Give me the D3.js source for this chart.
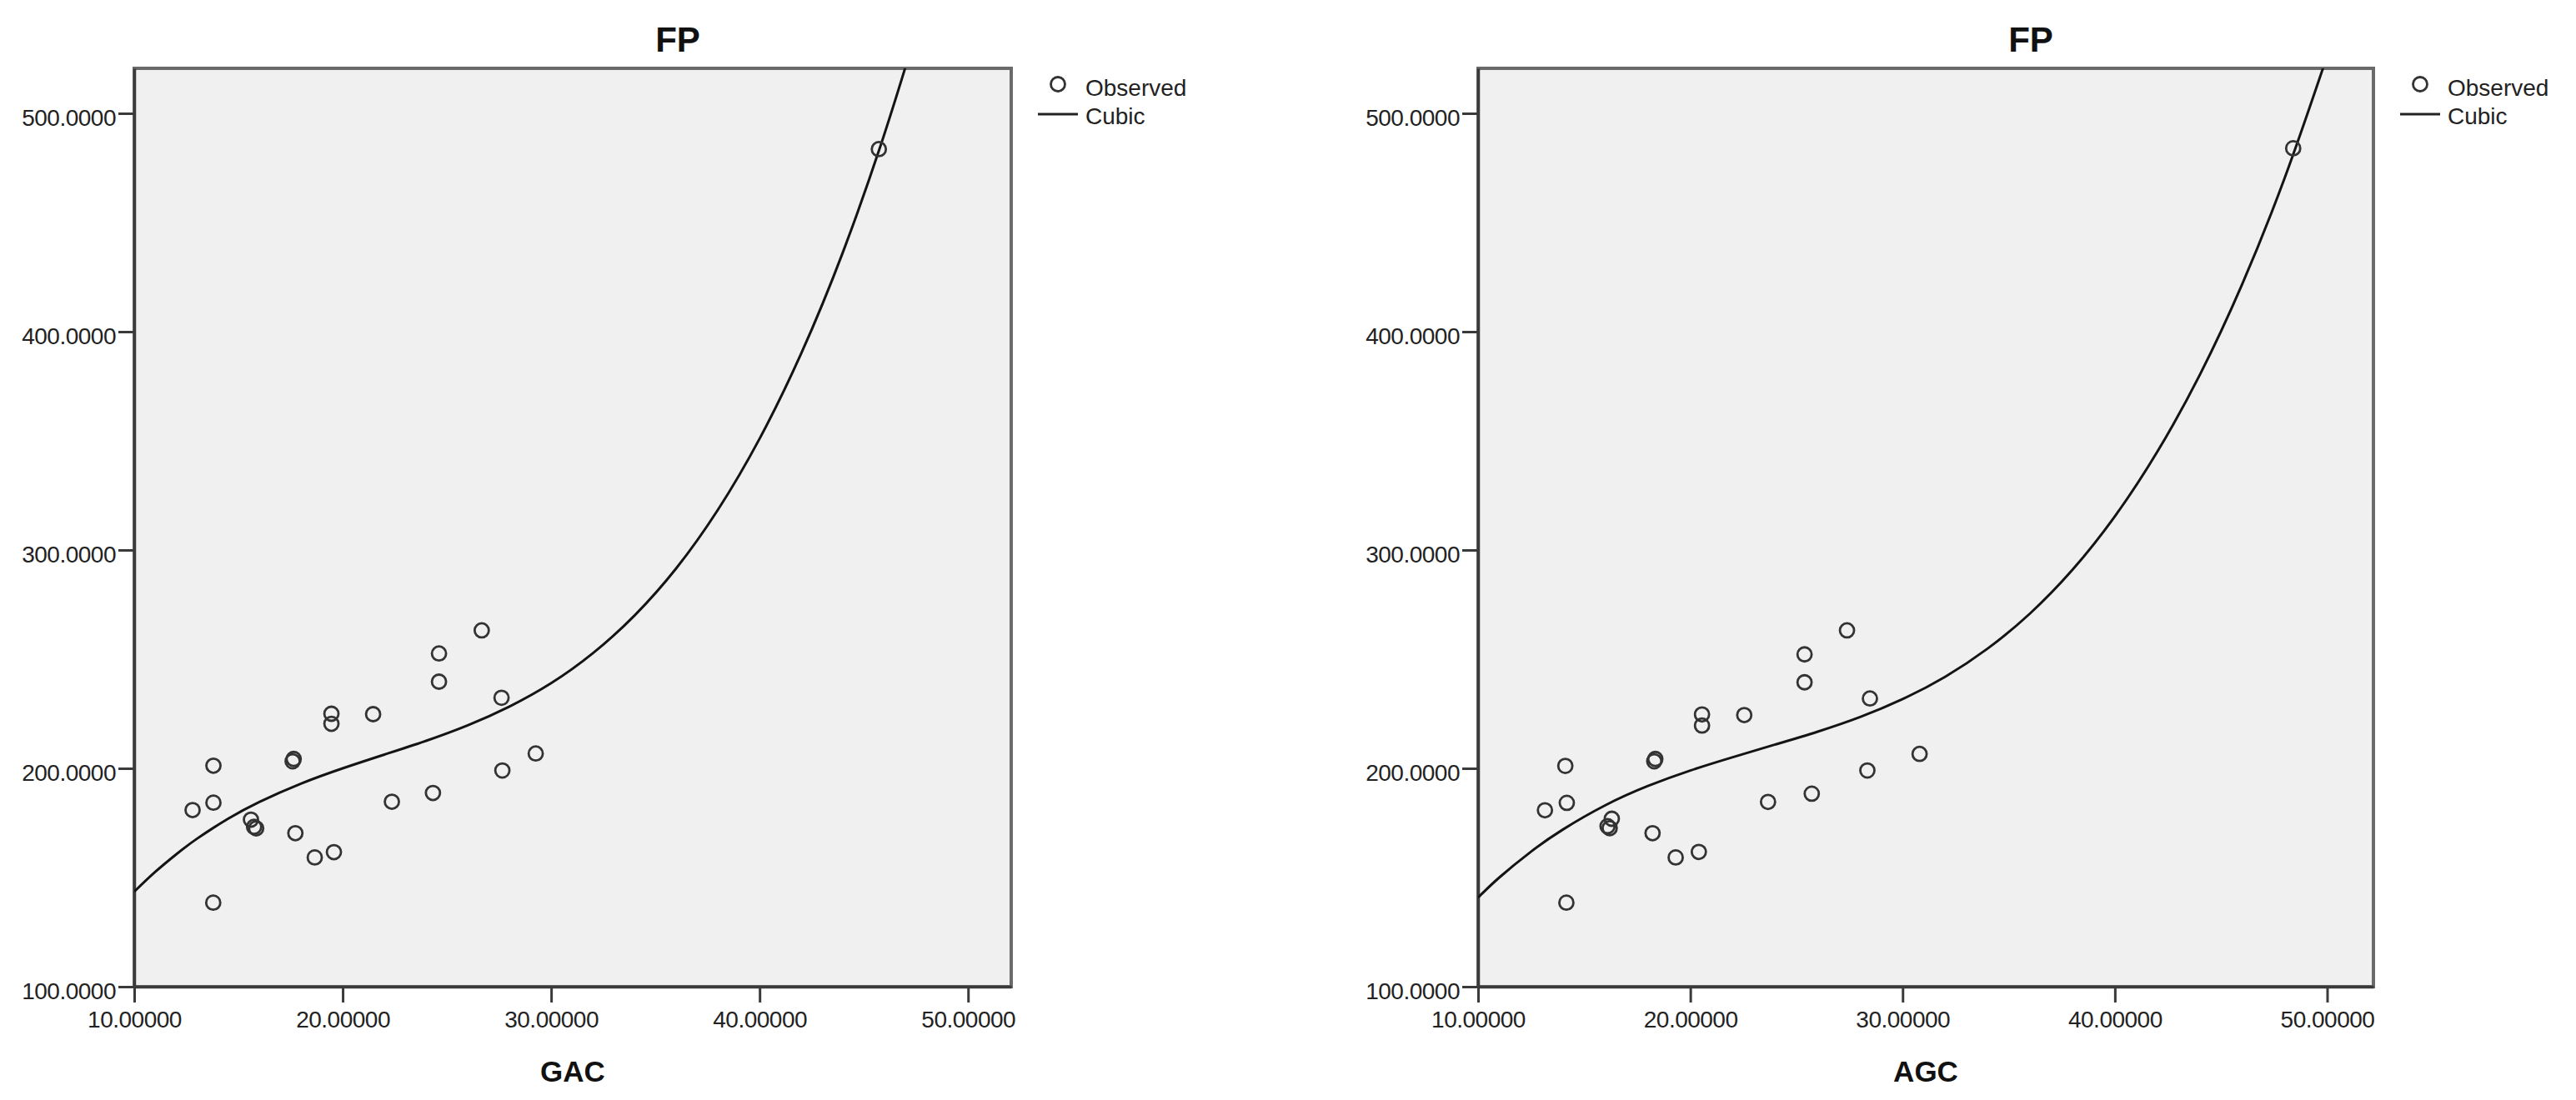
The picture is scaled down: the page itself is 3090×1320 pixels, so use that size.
<!DOCTYPE html>
<html>
<head>
<meta charset="utf-8">
<script src="https://cdn.jsdelivr.net/npm/d3@7"></script>
<style>
  body { margin:0; background:#fff; }
  text { font-family:"Liberation Sans", Arial, sans-serif; }
</style>
</head>
<body>
<script>
var width=3090, height=1320;

// observed values, left panel (GAC vs FP)
var gacX  = [13.8, 13.8, 12.8, 15.6, 15.75, 15.85, 17.6, 17.65, 17.73, 18.66, 19.58, 13.79, 22.36, 24.33, 27.66, 29.26, 19.46, 19.46, 21.46, 24.62, 24.62, 26.67, 27.62, 45.72];
var gacFP = [201.2, 184.3, 180.9, 176.5, 173.2, 172.5, 203.2, 204.3, 170.3, 159.2, 161.6, 138.5, 184.7, 188.7, 199.0, 206.8, 225.0, 220.4, 224.8, 252.6, 239.7, 263.2, 232.3, 483.6];

// observed values, right panel (AGC vs FP)
var agcX  = [14.11, 14.18, 13.15, 16.3, 16.1, 16.2, 18.3, 18.35, 18.22, 19.31, 20.4, 14.16, 23.66, 25.72, 28.34, 30.8, 20.55, 20.55, 22.54, 25.38, 25.38, 27.38, 28.46, 48.4];
var agcFP = [201.1, 184.2, 180.8, 176.9, 173.5, 172.6, 203.2, 204.3, 170.3, 159.2, 161.7, 138.5, 184.6, 188.4, 199.0, 206.6, 224.7, 219.6, 224.4, 252.2, 239.4, 263.2, 232.0, 484.0];

// cubic fit curve
var gacCurveX = [10, 11, 12, 13, 14.5, 16, 18, 20, 22, 24, 26, 28, 30, 32, 34, 36, 38, 40, 42, 44, 45.8, 47.0];
var gacCurveY = [143.5, 152.5, 160.5, 167.7, 176.9, 184.6, 193.0, 200.0, 206.3, 212.6, 219.7, 228.3, 239.0, 252.7, 270.0, 291.6, 318.4, 351.0, 390.1, 436.5, 485.1, 521.3];
var agcCurveX = [10, 11, 12.5, 14, 16, 18, 20, 22, 24, 26, 28, 30, 32, 34, 36, 38, 40, 42, 44, 46, 48, 49.82];
var agcCurveY = [140.8, 150.0, 161.9, 172.0, 183.1, 191.9, 199.0, 205.1, 210.9, 216.8, 223.5, 231.7, 241.9, 254.8, 270.9, 290.9, 315.4, 345.0, 380.2, 421.8, 470.4, 521.1];

var xTicks = [10, 20, 30, 40, 50];
var yTicks = [100, 200, 300, 400, 500];
var legendLabels = ["Observed", "Cubic"];

function init(){
	var svg = d3.select("body").append("svg").attr("width",width).attr("height",height);

	drawPanel(svg, {id:"a", x0:161, x1:1213, xMax:52.07, title:"FP", xLabel:"GAC", xs:gacX, ys:gacFP, cx:gacCurveX, cy:gacCurveY});
	drawPanel(svg, {id:"b", x0:1773, x1:2847, xMax:52.18, title:"FP", xLabel:"AGC", xs:agcX, ys:agcFP, cx:agcCurveX, cy:agcCurveY});
}

function drawPanel(svg, p){
	var top=82, bottom=1184;
	var x = d3.scaleLinear().domain([10, p.xMax]).range([p.x0, p.x1]);
	var y = d3.scaleLinear().domain([100, 520.6]).range([bottom, top]);
	var g = svg.append("g");

	g.append("clipPath").attr("id","clip"+p.id)
		.append("rect").attr("x",p.x0).attr("y",top).attr("width",p.x1-p.x0).attr("height",bottom-top);

	g.append("rect")
		.attr("x",p.x0).attr("y",top).attr("width",p.x1-p.x0).attr("height",bottom-top)
		.attr("fill","#f0f0f0").attr("stroke","#6a6a6a").attr("stroke-width",4);

	// axes
	var yAxis = g.append("g").attr("transform","translate("+p.x0+",0)")
		.call(d3.axisLeft(y).tickValues(yTicks).tickFormat(d3.format(".4f")).tickSize(19).tickPadding(3).tickSizeOuter(0));
	var xAxis = g.append("g").attr("transform","translate(0,"+bottom+")")
		.call(d3.axisBottom(x).tickValues(xTicks).tickFormat(d3.format(".5f")).tickSize(19).tickPadding(10).tickSizeOuter(0));
	[xAxis,yAxis].forEach(function(a){
		a.select(".domain").attr("stroke","#3a3a3a").attr("stroke-width",3.5);
		a.selectAll(".tick line").attr("stroke","#3a3a3a").attr("stroke-width",3);
		a.selectAll(".tick text").attr("fill","#222").attr("font-size",28).attr("letter-spacing","-0.5px")
			.style("font-family","'Liberation Sans', Arial, sans-serif");
	});
	yAxis.selectAll(".tick text").attr("dy","0.52em");

	// cubic curve
	var pts = p.cx.map(function(d,i){ return [d, p.cy[i]]; });
	g.append("path").datum(pts)
		.attr("clip-path","url(#clip"+p.id+")")
		.attr("fill","none").attr("stroke","#141414").attr("stroke-width",3)
		.attr("d", d3.line().x(function(d){return x(d[0]);}).y(function(d){return y(d[1]);}).curve(d3.curveNatural));

	// observed points
	var obs = p.xs.map(function(d,i){ return {x:d, y:p.ys[i]}; });
	g.selectAll("circle.obs").data(obs).enter().append("circle").attr("class","obs")
		.attr("cx",function(d){return x(d.x);}).attr("cy",function(d){return y(d.y);})
		.attr("r",8.5).attr("fill","none").attr("stroke","#333").attr("stroke-width",2.8);

	// titles
	var mid = (p.x0+p.x1)/2;
	g.append("text").attr("x",mid+126).attr("y",62).attr("text-anchor","middle")
		.attr("font-size",42).attr("font-weight","bold").attr("fill","#111").text(p.title);
	g.append("text").attr("x",mid).attr("y",1298).attr("text-anchor","middle")
		.attr("font-size",35).attr("font-weight","bold").attr("fill","#111").text(p.xLabel);

	// legend
	var lx = p.x1+56;
	var leg = g.append("g");
	leg.append("circle").attr("cx",lx).attr("cy",101).attr("r",8.5)
		.attr("fill","none").attr("stroke","#333").attr("stroke-width",2.8);
	leg.append("line").attr("x1",lx-24).attr("x2",lx+24).attr("y1",137).attr("y2",137)
		.attr("stroke","#222").attr("stroke-width",3);
	leg.selectAll("text").data(legendLabels).enter().append("text")
		.attr("x",lx+33).attr("y",function(d,i){return 115+i*34;})
		.attr("font-size",28).attr("fill","#222").text(function(d){return d;});
}

init();
</script>
</body>
</html>
